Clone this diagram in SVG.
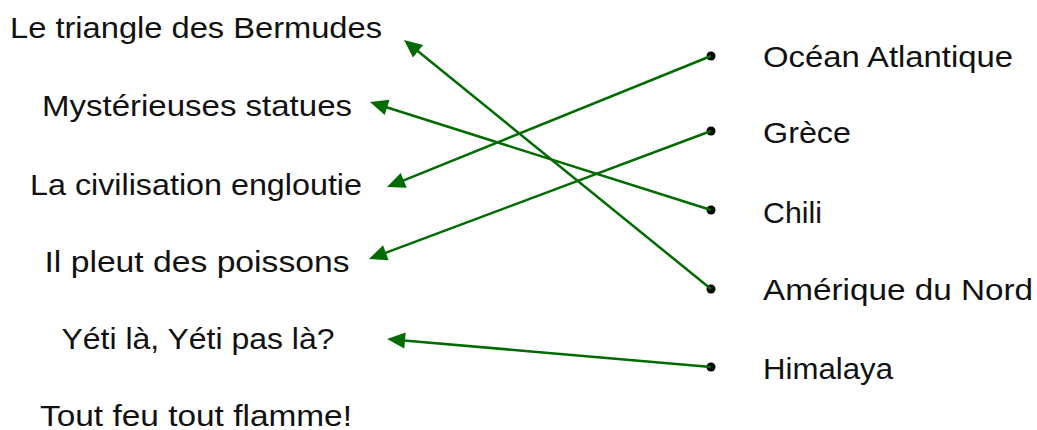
<svg xmlns="http://www.w3.org/2000/svg" width="1037" height="430" viewBox="0 0 1037 430">
<style>
text{font-family:"Liberation Sans",Arial,sans-serif;font-size:29px;fill:#111}
.l{text-anchor:middle}
.c{stroke:#006b00;stroke-width:2.5;fill:none;marker-end:url(#ah)}
.d{fill:#000}
</style>
<defs>
<marker id="ah" markerUnits="userSpaceOnUse" markerWidth="18" markerHeight="16" refX="4" refY="8" orient="auto" overflow="visible">
<path d="M0,0 L18,8 L0,16 Z" fill="#006b00"/>
</marker>
</defs>
<rect width="1037" height="430" fill="#fff"/>
<g id="left-1"><text class="l" x="196" y="38" textLength="372" lengthAdjust="spacingAndGlyphs">Le triangle des Bermudes</text></g>
<g id="left-2"><text class="l" x="197" y="116" textLength="310" lengthAdjust="spacingAndGlyphs">Mystérieuses statues</text></g>
<g id="left-3"><text class="l" x="196" y="195" textLength="332" lengthAdjust="spacingAndGlyphs">La civilisation engloutie</text></g>
<g id="left-4"><text class="l" x="197" y="272" textLength="305" lengthAdjust="spacingAndGlyphs">Il pleut des poissons</text></g>
<g id="left-5"><text class="l" x="198" y="349" textLength="273" lengthAdjust="spacingAndGlyphs">Yéti là, Yéti pas là?</text></g>
<g id="left-6"><text class="l" x="196" y="426" textLength="312" lengthAdjust="spacingAndGlyphs">Tout feu tout flamme!</text></g>
<g id="right-1"><circle class="d" cx="711" cy="56" r="4.5"/><text x="763" y="67" textLength="250" lengthAdjust="spacingAndGlyphs">Océan Atlantique</text></g>
<g id="right-2"><circle class="d" cx="711" cy="131" r="4.5"/><text x="763" y="143" textLength="88" lengthAdjust="spacingAndGlyphs">Grèce</text></g>
<g id="right-3"><circle class="d" cx="711" cy="210" r="4.5"/><text x="763" y="223" textLength="59" lengthAdjust="spacingAndGlyphs">Chili</text></g>
<g id="right-4"><circle class="d" cx="711" cy="289" r="4.5"/><text x="763" y="300" textLength="270" lengthAdjust="spacingAndGlyphs">Amérique du Nord</text></g>
<g id="right-5"><circle class="d" cx="711" cy="367" r="4.5"/><text x="763" y="379" textLength="130" lengthAdjust="spacingAndGlyphs">Himalaya</text></g>
<g id="connectors">
<line class="c" x1="711" y1="289" x2="414.9" y2="48.8"/>
<line class="c" x1="711" y1="210" x2="383.3" y2="106.2"/>
<line class="c" x1="711" y1="56" x2="400" y2="181.8"/>
<line class="c" x1="711" y1="131" x2="382.1" y2="254.1"/>
<line class="c" x1="711" y1="367" x2="401" y2="340.2"/>
</g>
</svg>
